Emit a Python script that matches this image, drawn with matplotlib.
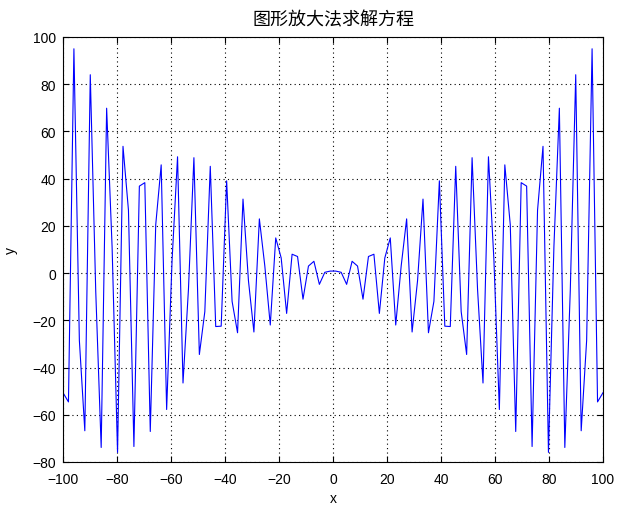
import numpy as np
import matplotlib
matplotlib.use('Agg')
import matplotlib.pyplot as plt

plt.rcParams['font.family'] = ['Liberation Sans', 'Noto Sans CJK SC', 'DejaVu Sans']

# 100 samples from -100 to 100
x = np.linspace(-100, 100, 100)
y_right = [0.86, 0.34, -4.76, 5.01, 2.98, -11.04, 7.03, 8.00, -17.07, 6.44,
           14.90, -21.98, 3.02, 22.97, -24.94, -3.21, 31.35, -25.26, -11.95, 39.09,
           -22.47, -22.63, 45.23, -16.32, -34.47, 48.88, -6.85, -46.54, 49.27, 5.61,
           -57.77, 45.85, 20.46, -67.08, 38.31, 36.84, -73.44, 26.64, 53.70, -75.93,
           11.16, 69.84, -73.85, -7.53, 84.02, -66.77, -28.51, 95.01, -54.55, -50.64]
y_left = [-50.64, -54.55, 95.01, -28.51, -66.77, 84.02, -7.53, -73.85, 69.84, 11.16,
          -75.93, 53.70, 26.64, -73.44, 36.84, 38.31, -67.08, 20.46, 45.85, -57.77,
          5.61, 49.27, -46.54, -6.85, 48.88, -34.47, -16.32, 45.23, -22.63, -22.47,
          39.09, -11.95, -25.26, 31.35, -3.21, -24.94, 22.97, 3.02, -21.98, 14.90,
          6.44, -17.07, 8.00, 7.03, -11.04, 2.98, 5.01, -4.76, 0.34, 0.86]
y = y_left + y_right

xticks = [-100, -80, -60, -40, -20, 0, 20, 40, 60, 80, 100]
yticks = [-80, -60, -40, -20, 0, 20, 40, 60, 80, 100]

fig = plt.figure(figsize=(6.17, 5.06), dpi=100)
ax = fig.add_axes([63/617, 43/506, 540/617, 425/506])
ax.plot(x, y, color='#0000ff', lw=0.8)

ax.set_xlim(-100, 100)
ax.set_ylim(-80, 100)
ax.set_xticks(xticks)
ax.set_yticks(yticks)
ax.grid(True, linestyle=(0, (1, 3)), color='black', lw=0.8)
ax.tick_params(direction='in', top=True, right=True, labelsize=10, length=4)
ax.tick_params(axis='x', pad=7)
ax.tick_params(axis='y', pad=5)
for s in ax.spines.values():
    s.set_linewidth(0.8)

ax.set_title('图形放大法求解方程', fontsize=13, pad=9, family=['Noto Sans CJK SC', 'DejaVu Sans'])
ax.set_xlabel('x', fontsize=10, labelpad=4)
ax.set_ylabel('y', fontsize=10, labelpad=10)

fig.savefig('out.png', dpi=100)
